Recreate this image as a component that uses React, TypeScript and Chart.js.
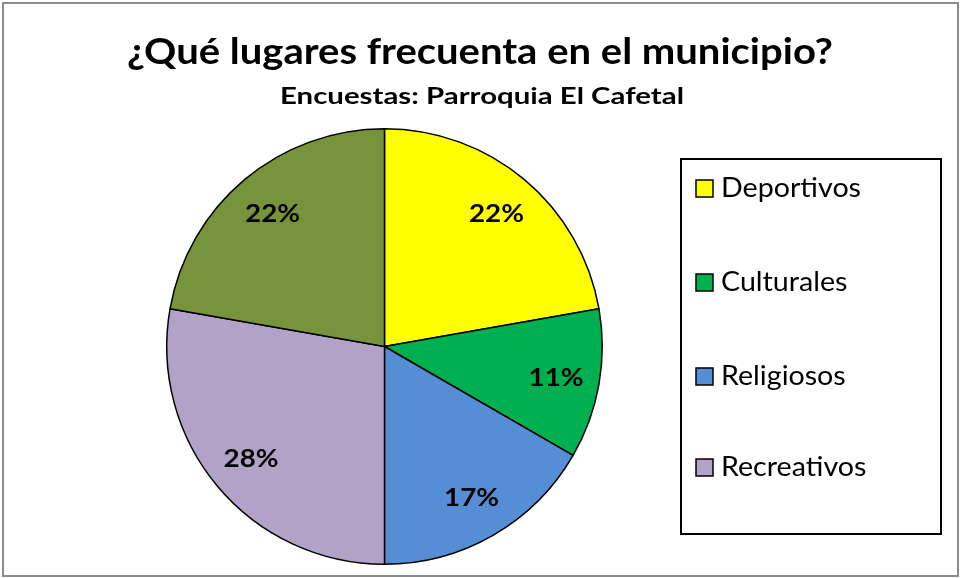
import React, { useEffect, useRef } from "react";
import { Chart, registerables } from "chart.js";

Chart.register(...registerables);

const TITLE = "¿Qué lugares frecuenta en el municipio?";
const SUBTITLE = "Encuestas: Parroquia El Cafetal";
const categories = ["Deportivos", "Culturales", "Religiosos", "Recreativos", ""];
const counts = [4, 2, 3, 5, 4];
const colors = ["#FFFF00", "#00B050", "#558ED5", "#B3A2C7", "#77933C"];
const legendItems = ["Deportivos", "Culturales", "Religiosos", "Recreativos"];

const FONT = "Lato, 'Open Sans', sans-serif";

function drawScaled(ctx: any, text: string, x: number, y: number, sx: number, align: string) {
  ctx.save();
  ctx.translate(x, y);
  ctx.scale(sx, 1);
  ctx.textAlign = align;
  ctx.fillText(text, 0, 0);
  ctx.restore();
}

const decorPlugin = {
  id: "decor",
  beforeDraw(chart: any) {
    const ctx = chart.ctx;
    ctx.save();
    ctx.fillStyle = "#ffffff";
    ctx.fillRect(0, 0, chart.width, chart.height);
    ctx.strokeStyle = "#8c8c8c";
    ctx.lineWidth = 2;
    ctx.strokeRect(3, 3, chart.width - 5, chart.height - 5);
    ctx.restore();
  },
  afterDraw(chart: any) {
    const ctx = chart.ctx;
    ctx.save();
    ctx.fillStyle = "#000000";
    ctx.textBaseline = "alphabetic";
    ctx.font = `bold 36px ${FONT}`;
    let w = ctx.measureText(TITLE).width;
    drawScaled(ctx, TITLE, 480, 64, 706 / w, "center");
    ctx.font = `bold 23px ${FONT}`;
    w = ctx.measureText(SUBTITLE).width;
    drawScaled(ctx, SUBTITLE, 482, 104, 404 / w, "center");

    // legend box
    ctx.strokeStyle = "#000000";
    ctx.lineWidth = 2;
    ctx.strokeRect(681, 159, 260, 375);
    ctx.font = `26px ${FONT}`;
    const lsx = 140 / ctx.measureText(legendItems[0]).width;
    const ys = [188, 282, 376, 467];
    legendItems.forEach((label, i) => {
      const y = ys[i];
      ctx.fillStyle = colors[i];
      ctx.fillRect(696, y - 8, 17, 17);
      ctx.lineWidth = 1.5;
      ctx.strokeStyle = "#000000";
      ctx.strokeRect(696, y - 8, 17, 17);
      ctx.fillStyle = "#000000";
      drawScaled(ctx, label, 721, y + 9, lsx, "left");
    });
    ctx.restore();
  },
  afterDatasetsDraw(chart: any) {
    const ctx = chart.ctx;
    const meta = chart.getDatasetMeta(0);
    const data = chart.data.datasets[0].data as number[];
    const total = data.reduce((a, b) => a + b, 0);
    ctx.save();
    ctx.fillStyle = "#000000";
    ctx.font = `bold 25px ${FONT}`;
    ctx.textBaseline = "alphabetic";
    const dsx = 55 / ctx.measureText("22%").width;
    meta.data.forEach((arc: any, i: number) => {
      const p = arc.getProps(["x", "y", "startAngle", "endAngle", "outerRadius"], true);
      const mid = (p.startAngle + p.endAngle) / 2;
      const r = p.outerRadius * 0.8;
      const x = p.x + Math.cos(mid) * r;
      const y = p.y + Math.sin(mid) * r;
      const pct = Math.round((data[i] / total) * 100) + "%";
      drawScaled(ctx, pct, x, y + 9, dsx, "center");
    });
    ctx.restore();
  },
};

export default function App() {
  const ref = useRef<HTMLCanvasElement>(null);
  useEffect(() => {
    document.body.style.margin = "0";
    const chart = new Chart(ref.current as HTMLCanvasElement, {
      type: "pie",
      data: {
        labels: categories,
        datasets: [
          {
            data: counts,
            backgroundColor: colors,
            borderColor: "#000000",
            borderWidth: 1.5,
          },
        ],
      },
      options: {
        responsive: false,
        animation: false,
        layout: { padding: { left: 166, top: 128, right: 357, bottom: 13 } },
        plugins: {
          legend: { display: false },
          title: { display: false },
          tooltip: { enabled: false },
        },
      },
      plugins: [decorPlugin],
    });
    return () => chart.destroy();
  }, []);
  return (
    <div style={{ width: 960, height: 578 }}>
      <canvas ref={ref} width={960} height={578} style={{ display: "block" }} />
    </div>
  );
}
